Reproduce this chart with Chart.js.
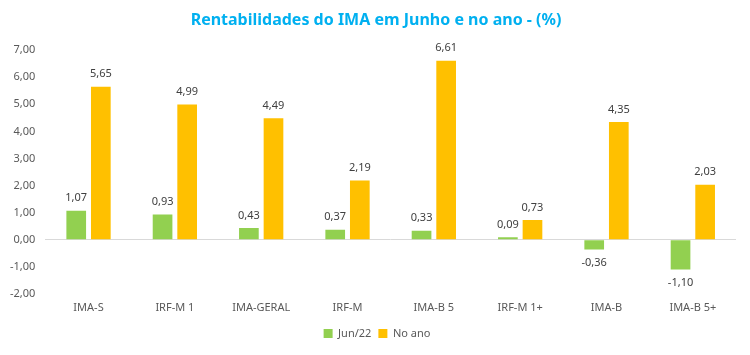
<!DOCTYPE html>
<html><head><meta charset="utf-8">
<script src="https://cdn.jsdelivr.net/npm/chart.js@4"></script>
<style>html,body{margin:0;padding:0;background:#fff}#w{width:750px;height:355px}</style>
</head><body><div id="w"><canvas id="c"></canvas></div>
<script>
const categories = ["IMA-S","IRF-M 1","IMA-GERAL","IRF-M","IMA-B 5","IRF-M 1+","IMA-B","IMA-B 5+"];
const jun22 = [1.07,0.93,0.43,0.37,0.33,0.09,-0.36,-1.10];
const noAno = [5.65,4.99,4.49,2.19,6.61,0.73,4.35,2.03];
const seriesNames = ["Jun/22","No ano"];
const fmt = v => v.toFixed(2).replace('.', ',');
const FONT = "'Noto Sans', 'DejaVu Sans', sans-serif";

const labelPlugin = {
  id: 'lbl',
  afterLayout(chart) {
    if (chart.legend) { chart.legend.left += 9; chart.legend.right += 9; }
    if (chart.titleBlock) { chart.titleBlock.left += 8; chart.titleBlock.right += 8; }
  },
  afterDatasetsDraw(chart) {
    const ctx = chart.ctx;
    ctx.save();
    ctx.font = "11px " + FONT;
    ctx.fillStyle = "#404040";
    ctx.textAlign = "center";
    chart.data.datasets.forEach((ds, i) => {
      chart.getDatasetMeta(i).data.forEach((bar, j) => {
        const v = ds.data[j];
        if (v >= 0) { ctx.textBaseline = "bottom"; ctx.fillText(fmt(v), bar.x, bar.y - 7); }
        else { ctx.textBaseline = "top"; ctx.fillText(fmt(v), bar.x, bar.y + 8); }
      });
    });
    ctx.restore();
  }
};

new Chart(document.getElementById('c'), {
  type: 'bar',
  data: {
    labels: categories,
    datasets: [
      { label: seriesNames[0], data: jun22, backgroundColor: '#92D050' },
      { label: seriesNames[1], data: noAno, backgroundColor: '#FFC000' }
    ]
  },
  options: {
    responsive: true, maintainAspectRatio: false, animation: false,
    devicePixelRatio: 1,
    layout: { padding: { left: 0, right: 14, top: 0, bottom: 6 } },
    datasets: { bar: { categoryPercentage: 0.57, barPercentage: 0.8 } },
    plugins: {
      title: { display: true, text: 'Rentabilidades do IMA em Junho e no ano - (%)', color: '#00B0F0',
        font: { family: FONT, size: 16, weight: 'bold' }, padding: { top: 11, bottom: 20 } },
      legend: { position: 'bottom', labels: { boxWidth: 9, boxHeight: 9, color: '#595959',
        font: { family: FONT, size: 11 }, padding: 7 } },
      tooltip: { enabled: false }
    },
    scales: {
      x: { grid: { display: false, drawTicks: false }, border: { display: false },
        ticks: { color: '#595959', font: { family: FONT, size: 11 }, padding: 7 } },
      y: { min: -2, max: 7, grid: { drawTicks: false, color: ctx => ctx.tick.value === 0 ? '#D9D9D9' : 'rgba(0,0,0,0)', lineWidth: 1 },
        border: { display: false },
        ticks: { stepSize: 1, color: '#595959', font: { family: FONT, size: 11 }, padding: 10, callback: v => fmt(v) } }
    }
  },
  plugins: [labelPlugin]
});
</script></body></html>
